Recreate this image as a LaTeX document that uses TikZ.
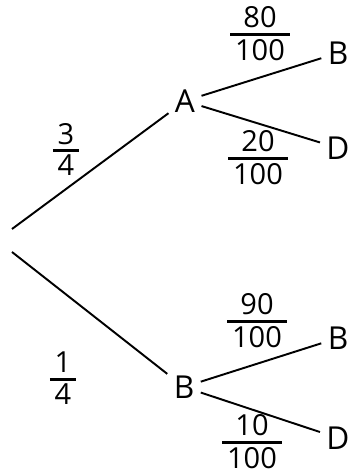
\documentclass[tikz,border=0pt]{standalone}
\usepackage{fontspec}
\setmainfont{Open Sans}
\setlength{\arrayrulewidth}{1.2pt}
\newcommand{\prob}[2]{\begin{tabular}{@{\,}c@{\,}}#1\\[-2pt]\hline\noalign{\vskip 2pt}#2\end{tabular}}

\begin{document}
\begin{tikzpicture}[
  x=0.02cm, y=-0.02cm,
  every node/.style={font=\fontsize{18}{21}\selectfont},
  evt/.style={inner sep=3.5pt},
  frc/.style={font=\fontsize{16.5}{17}\selectfont, inner sep=0pt},
  br/.style={line width=1.1pt}
]
\useasboundingbox (0,0) rectangle (354,475);

% root of the tree
\coordinate (r1) at (12,229);
\coordinate (r2) at (12,252);

% first level
\node[evt] (A) at (185,101) {A};
\node[evt] (B) at (184,387) {B};

% second level
\node[evt] (AB) at (338,53)  {B};
\node[evt] (AD) at (338,148) {D};
\node[evt] (BB) at (338,338) {B};
\node[evt] (BD) at (338,438) {D};

\draw[br] (r1) -- (A);
\draw[br] (r2) -- (B);
\draw[br] (A) -- (AB);
\draw[br] (A) -- (AD);
\draw[br] (B) -- (BB);
\draw[br] (B) -- (BD);

% probabilities
\node[frc] (pA)  at (66,154)  {\prob{3}{4}};
\node[frc] (pB)  at (63,383)  {\prob{1}{4}};
\node[frc] (pAB) at (260,38)  {\prob{80}{100}};
\node[frc] (pAD) at (258,162) {\prob{20}{100}};
\node[frc] (pBB) at (257,325) {\prob{90}{100}};
\node[frc] (pBD) at (252,446) {\prob{10}{100}};

\end{tikzpicture}
\end{document}
